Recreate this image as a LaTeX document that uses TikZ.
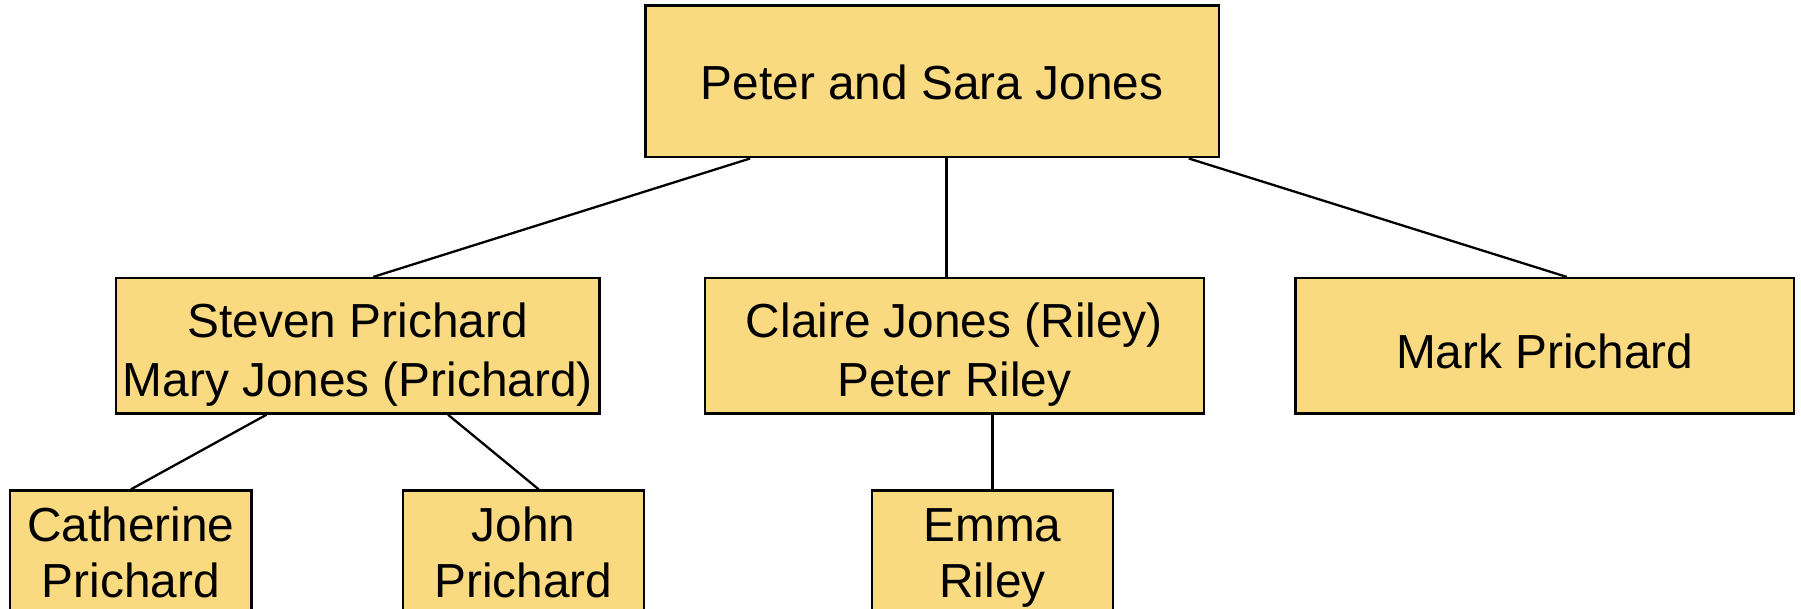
\documentclass[tikz,border=0pt]{standalone}
\usepackage{fontspec}
\setmainfont{Liberation Sans}
\usetikzlibrary{calc}
\definecolor{boxfill}{RGB}{250,218,128}
\begin{document}
\begin{tikzpicture}[x=0.5pt,y=-0.5pt,
  person/.style={draw=black, line width=1.15pt, fill=boxfill, inner sep=0pt},
  nametext/.style={align=center, inner sep=0pt,
    font=\fontsize{23.9}{28}\selectfont},
  couple/.style={nametext, font=\fontsize{23.9}{29.5}\selectfont},
  link/.style={draw=black, line width=1.15pt}]
\useasboundingbox (0,0) rectangle (1801,609);
\clip (0,0) rectangle (1801,609);

% generation 1
\node[person, minimum width=286.6pt, minimum height=75.85pt,
  label={[nametext, yshift=-0.5pt]center:Peter and Sara Jones}] (root) at (932.1,81.5) {};

% generation 2
\node[person, minimum width=241.8pt, minimum height=67.75pt,
  label={[couple, yshift=-4.5pt]center:Steven Prichard\\Mary Jones (Prichard)}] (steven) at (357.8,345.8) {};
\node[person, minimum width=249.35pt, minimum height=67.75pt,
  label={[couple, yshift=-4.5pt]center:Claire Jones (Riley)\\Peter Riley}] (claire) at (954.4,345.8) {};
\node[person, minimum width=249.2pt, minimum height=67.75pt,
  label={[nametext, yshift=-2.8pt]center:Mark Prichard}] (mark) at (1544.8,345.8) {};

% generation 3 (boxes run past the lower edge)
\node[person, minimum width=120.6pt, minimum height=62pt,
  label={[nametext]center:Catherine\\Prichard}] (cat) at (130.9,552.5) {};
\node[person, minimum width=120.6pt, minimum height=62pt,
  label={[nametext]center:John\\Prichard}] (john) at (523.5,552.5) {};
\node[person, minimum width=120.6pt, minimum height=62pt,
  label={[nametext, yshift=-2.8pt]center:Emma\\Riley}] (emma) at (992.4,552.5) {};

% family links
\draw[link] ($(root.south)+(-182,0)$) -- ($(steven.north)+(15.5,0)$);
\draw[link] ($(root.south)+(14.4,0)$) -- ($(claire.north)+(-7.9,0)$);
\draw[link] ($(root.south)+(256.7,0)$) -- ($(mark.north)+(21.9,0)$);
\draw[link] ($(steven.south)+(-91.3,0)$) -- (cat.north);
\draw[link] ($(steven.south)+(90.2,0)$) -- ($(john.north)+(15.2,0)$);
\draw[link] ($(claire.south)+(38,0)$) -- (emma.north);
\end{tikzpicture}
\end{document}
